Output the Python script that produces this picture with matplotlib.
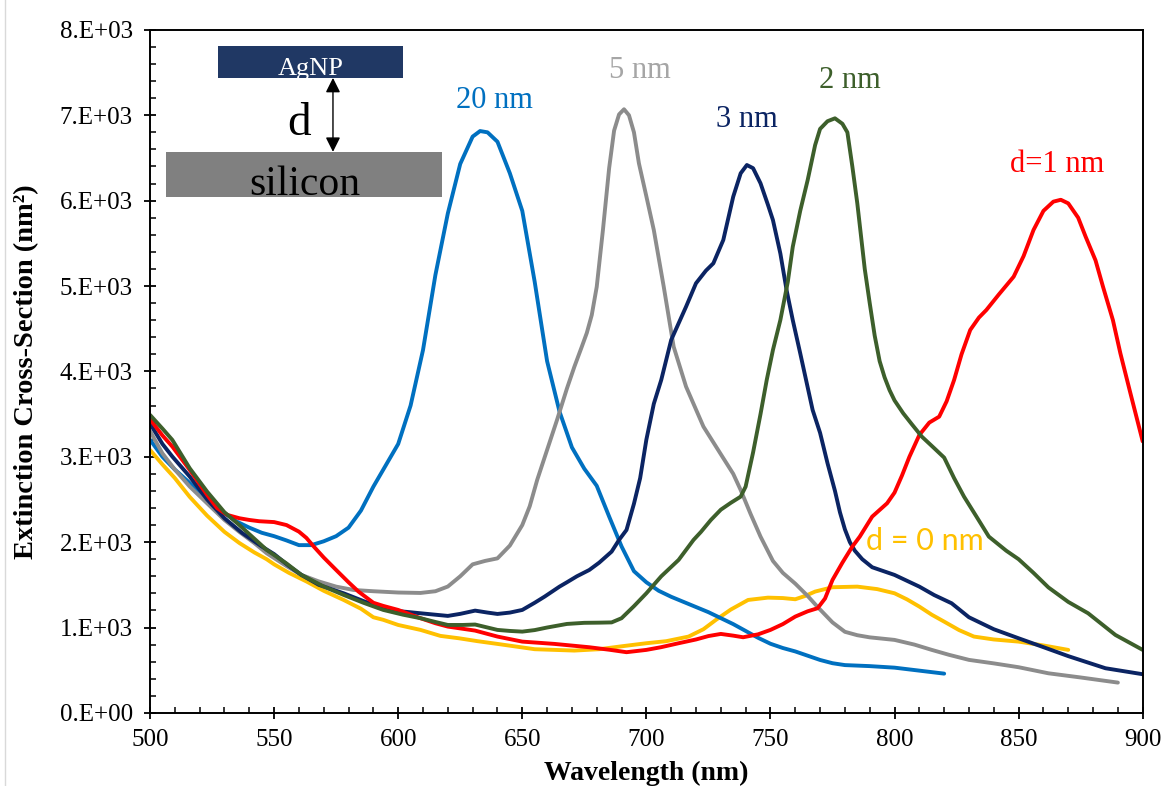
import matplotlib
matplotlib.use("Agg")
import matplotlib.pyplot as plt
from matplotlib.patches import Rectangle
from matplotlib.lines import Line2D
from matplotlib.ticker import FixedLocator, FixedFormatter, MultipleLocator

# ---------------- data ----------------
x_ticks = [500, 550, 600, 650, 700, 750, 800, 850, 900]
y_ticks = [0, 1000, 2000, 3000, 4000, 5000, 6000, 7000, 8000]
y_tick_labels = ["0.E+00", "1.E+03", "2.E+03", "3.E+03", "4.E+03",
                 "5.E+03", "6.E+03", "7.E+03", "8.E+03"]

# d = 20 nm
wl_20 = [500, 505, 510, 515, 520, 525, 530, 535, 540, 545, 550, 555, 560, 565,
         570, 575, 580, 585, 590, 595, 600, 605, 610, 615, 620, 625, 630, 633,
         636, 640, 645, 650, 655, 660, 665, 670, 675, 680, 685, 690, 695, 700,
         705, 710, 715, 720, 725, 730, 735, 740, 745, 750, 755, 760, 765, 770,
         775, 780, 790, 800, 810, 820]
ext_20 = [3200, 3000, 2850, 2720, 2580, 2450, 2340, 2240, 2170, 2110, 2070, 2020,
          1965, 1965, 2010, 2070, 2170, 2370, 2650, 2900, 3150, 3600, 4250, 5130,
          5850, 6430, 6750, 6815, 6800, 6690, 6320, 5880, 5050, 4120, 3530, 3110,
          2860, 2660, 2300, 1950, 1660, 1530, 1430, 1360, 1300, 1240, 1180, 1110,
          1040, 960, 880, 810, 760, 720, 670, 620, 582, 560, 548, 530, 495, 460]

# d = 5 nm
wl_5 = [500, 505, 510, 516, 523, 530, 536, 542, 547, 555, 561, 568, 575, 582,
        590, 600, 609, 615, 620, 625, 630, 635, 640, 645, 650, 653, 656, 660,
        664, 668, 671, 674, 676, 678, 680, 682.5, 685, 687, 689, 691, 693, 695,
        697, 700, 703, 707, 711, 716, 723, 730, 735, 738, 742, 746, 751, 755,
        760, 765, 769, 775, 780, 785, 790, 800, 808, 815, 822, 830, 840, 850,
        862, 875, 890]
ext_5 = [3300, 3040, 2850, 2651, 2455, 2260, 2120, 1990, 1870, 1720, 1616, 1540,
         1479, 1440, 1425, 1410, 1405, 1425, 1480, 1600, 1740, 1780, 1810, 1960,
         2200, 2420, 2728, 3080, 3431, 3800, 4055, 4290, 4450, 4660, 4990, 5656,
         6380, 6820, 7010, 7070, 7000, 6800, 6437, 6050, 5656, 4992, 4289, 3821,
         3353, 3030, 2800, 2611, 2330, 2065, 1780, 1640, 1514, 1370, 1241, 1060,
         950, 910, 885, 855, 800, 738, 680, 621, 580, 535, 464, 415, 355]

# d = 3 nm
wl_3 = [500, 505, 509, 516, 523, 530, 537, 545, 550, 556, 561, 568, 578, 586,
        594, 601, 609, 615, 620, 625, 631, 636, 640, 645, 650, 655, 659, 665,
        668, 672, 677, 681, 686, 689, 692, 695, 697.5, 700, 703, 706, 710, 716,
        720, 724, 727, 731, 735, 738, 740.5, 743, 746, 749, 751, 754, 756.5,
        759, 762, 767, 770, 773, 776, 778, 780, 782, 784, 787, 791, 800, 810,
        816, 823, 830, 840, 850, 860, 870, 885, 900]
ext_3 = [3390, 3150, 3002, 2768, 2500, 2280, 2110, 1950, 1860, 1720, 1616, 1500,
         1401, 1310, 1226, 1190, 1167, 1150, 1136, 1160, 1198, 1175, 1159, 1175,
         1206, 1290, 1362, 1479, 1530, 1600, 1674, 1760, 1889, 2026, 2143, 2450,
         2750, 3200, 3620, 3900, 4368, 4758, 5032, 5180, 5266, 5539, 6046, 6320,
         6417, 6380, 6203, 5950, 5773, 5380, 4953, 4600, 4212, 3548, 3280, 2924,
         2600, 2350, 2150, 2000, 1900, 1800, 1706, 1616, 1479, 1380, 1284, 1120,
         980, 874, 770, 665, 523, 453]

# d = 2 nm
wl_2 = [500, 505, 509, 516, 523, 530, 536, 547, 555, 561, 570, 578, 586, 594,
        602, 609, 615, 620, 626, 631, 636, 640, 645, 650, 655, 660, 668, 675,
        681, 686, 690, 695, 700, 706, 713, 719, 722, 726, 730, 734, 738, 740,
        743, 746, 748.5, 751, 754, 757, 759, 762, 765, 768, 770, 773, 776, 779,
        781, 783, 785, 788, 790, 792, 794, 796, 798, 800, 803.5, 807, 811, 816,
        820, 824, 828, 833, 838, 845, 850, 856, 862, 870, 878, 889, 900]
ext_2 = [3490, 3330, 3197, 2865, 2592, 2350, 2200, 1909, 1750, 1616, 1480, 1382,
         1290, 1206, 1150, 1109, 1065, 1030, 1030, 1035, 1000, 972, 960, 952, 970,
         1000, 1042, 1055, 1057, 1060, 1109, 1250, 1401, 1600, 1792, 2026, 2120,
         2260, 2380, 2460, 2533, 2650, 3050, 3500, 3899, 4250, 4602, 5050, 5460,
         5880, 6241, 6650, 6840, 6930, 6964, 6900, 6800, 6400, 5968, 5200, 4800,
         4420, 4120, 3930, 3780, 3660, 3509, 3380, 3236, 3100, 2990, 2750, 2533,
         2300, 2065, 1900, 1800, 1640, 1470, 1300, 1167, 913, 738]

# d = 1 nm
wl_1 = [500, 505, 509, 516, 523, 527, 531, 536, 540, 544, 550, 555, 560, 563,
        566, 570, 575, 580, 584, 590, 594, 600, 609, 615, 620, 631, 640, 650,
        663, 677, 685, 692, 700, 706, 713, 720, 725, 730, 735, 739, 745, 750,
        755, 760, 765, 769, 772, 775, 779, 783, 786, 791, 797, 800, 803, 806,
        810, 814, 818, 821, 824, 827, 830.5, 834, 837, 842, 848, 852, 856, 860,
        864, 867, 870, 874, 877, 881, 884, 888, 891, 895, 900]
ext_1 = [3440, 3250, 3119, 2846, 2553, 2400, 2320, 2280, 2260, 2245, 2235, 2200,
         2123, 2050, 1948, 1820, 1674, 1530, 1421, 1290, 1253, 1206, 1109, 1050,
         1011, 964, 894, 835, 808, 769, 740, 711, 738, 770, 816, 860, 900, 925,
         905, 886, 920, 972, 1040, 1128, 1190, 1226, 1340, 1557, 1760, 1948, 2065,
         2299, 2455, 2580, 2780, 3000, 3255, 3400, 3470, 3650, 3899, 4200, 4485,
         4630, 4719, 4900, 5109, 5350, 5656, 5880, 5988, 6010, 5968, 5800, 5578,
         5300, 4992, 4600, 4212, 3750, 3180]

# d = 0 nm
wl_0 = [500, 505, 510, 516, 523, 530, 536, 542, 547, 550, 556, 563, 570, 578,
        585, 590, 594, 600, 609, 617, 624.5, 632, 640, 648, 655, 663, 671, 681,
        690, 700, 708, 717, 723, 728, 734, 741, 749, 755, 760, 764, 768, 775,
        785, 793, 800, 805, 810, 815, 820, 826, 832, 840, 850, 860, 870]
ext_0 = [3080, 2910, 2750, 2530, 2310, 2120, 1990, 1880, 1800, 1740, 1640, 1540,
         1430, 1323, 1220, 1120, 1090, 1030, 972, 902, 874, 840, 808, 775, 746,
         738, 730, 746, 780, 816, 840, 894, 980, 1089, 1210, 1323, 1350, 1345,
         1331, 1370, 1421, 1472, 1479, 1450, 1401, 1330, 1245, 1150, 1069, 970,
         894, 860, 835, 790, 738]

# ---------------- figure ----------------
serif = ["Liberation Serif", "DejaVu Serif"]
plt.rcParams["font.family"] = serif

fig = plt.figure(figsize=(11.72, 7.86), dpi=100)
ax = fig.add_axes([0.128, 0.093, 0.847, 0.869])

c_0 = "#FFC000"
c_20 = "#0070C0"
c_5 = "#8C8C8C"
c_3 = "#0B2463"
c_1 = "#FF0000"
c_2 = "#3D5F2B"
lw = 2.8
style = dict(lw=lw, solid_capstyle="round", solid_joinstyle="round")

ax.plot(wl_0, ext_0, color=c_0, **style)
ax.plot(wl_20, ext_20, color=c_20, **style)
ax.plot(wl_5, ext_5, color=c_5, **style)
ax.plot(wl_3, ext_3, color=c_3, **style)
ax.plot(wl_1, ext_1, color=c_1, **style)
ax.plot(wl_2, ext_2, color=c_2, **style)

ax.set_xlim(500, 900)
ax.set_ylim(0, 8000)

ax.xaxis.set_major_locator(FixedLocator(x_ticks))
ax.xaxis.set_minor_locator(MultipleLocator(10))
ax.yaxis.set_major_locator(FixedLocator(y_ticks))
ax.yaxis.set_major_formatter(FixedFormatter(y_tick_labels))
ax.yaxis.set_minor_locator(MultipleLocator(200))

ax.tick_params(which="major", direction="inout", length=9, width=1.3,
               labelsize=18, pad=7, color="black")
ax.tick_params(axis="y", which="major", pad=8)
ax.tick_params(which="minor", direction="in", length=4, width=1.1)
for lab in ax.get_xticklabels() + ax.get_yticklabels():
    lab.set_family(serif)

for sp in ax.spines.values():
    sp.set_linewidth(1.4)
    sp.set_color("black")

# axis titles
ax.text(0.5, -0.088, "Wavelength (nm)", transform=ax.transAxes, ha="center",
        va="center", fontsize=20, fontweight="bold", family=serif)
ax.text(-0.124, 0.5, "Extinction Cross-Section (nm²)", transform=ax.transAxes,
        ha="center", va="center", rotation=90, fontsize=20.5, fontweight="bold",
        family=serif)

# curve labels
lab_fs = 22
ax.text(638.6, 7085, "20 nm", color=c_20, fontsize=lab_fs, ha="center", va="baseline")
ax.text(697.4, 7436, "5 nm", color="#A6A6A6", fontsize=lab_fs, ha="center", va="baseline")
ax.text(740.4, 6862, "3 nm", color=c_3, fontsize=lab_fs, ha="center", va="baseline")
ax.text(782.2, 7319, "2 nm", color=c_2, fontsize=lab_fs, ha="center", va="baseline")
ax.text(865.7, 6335, "d=1 nm", color=c_1, fontsize=lab_fs, ha="center", va="baseline")
ax.text(812.2, 1909, "d = 0 nm", color=c_0, fontsize=22, ha="center", va="baseline",
        family=["Lato", "DejaVu Sans"])

# schematic: particle above substrate separated by gap d
ax.add_patch(Rectangle((0.0685, 0.9297), 0.1863, 0.0469, transform=ax.transAxes,
                       facecolor="#203864", edgecolor="none", zorder=5))
ax.add_patch(Rectangle((0.0161, 0.7555), 0.2779, 0.0659, transform=ax.transAxes,
                       facecolor="#808080", edgecolor="none", zorder=5))
ax.text(0.162, 0.934, "AgNP", transform=ax.transAxes, ha="center", va="baseline",
        color="white", fontsize=19, zorder=6)
ax.text(0.1556, 0.7584, "silicon", transform=ax.transAxes, ha="center",
        va="baseline", color="black", fontsize=30, zorder=6)
ax.text(0.1506, 0.8463, "d", transform=ax.transAxes, ha="center", va="baseline",
        color="black", fontsize=34, zorder=6)
ax.annotate("", xy=(0.1843, 0.9297), xytext=(0.1843, 0.8214),
            xycoords="axes fraction", textcoords="axes fraction",
            arrowprops=dict(arrowstyle="<|-|>", color="black", lw=1.0,
                            mutation_scale=22, shrinkA=0, shrinkB=0),
            zorder=6)

# thin frame line at the left edge of the figure
fig.add_artist(Line2D([5 / 1172, 5 / 1172], [0, 1], color="#D9D9D9", lw=1.0))

fig.savefig("out.png", dpi=100)
